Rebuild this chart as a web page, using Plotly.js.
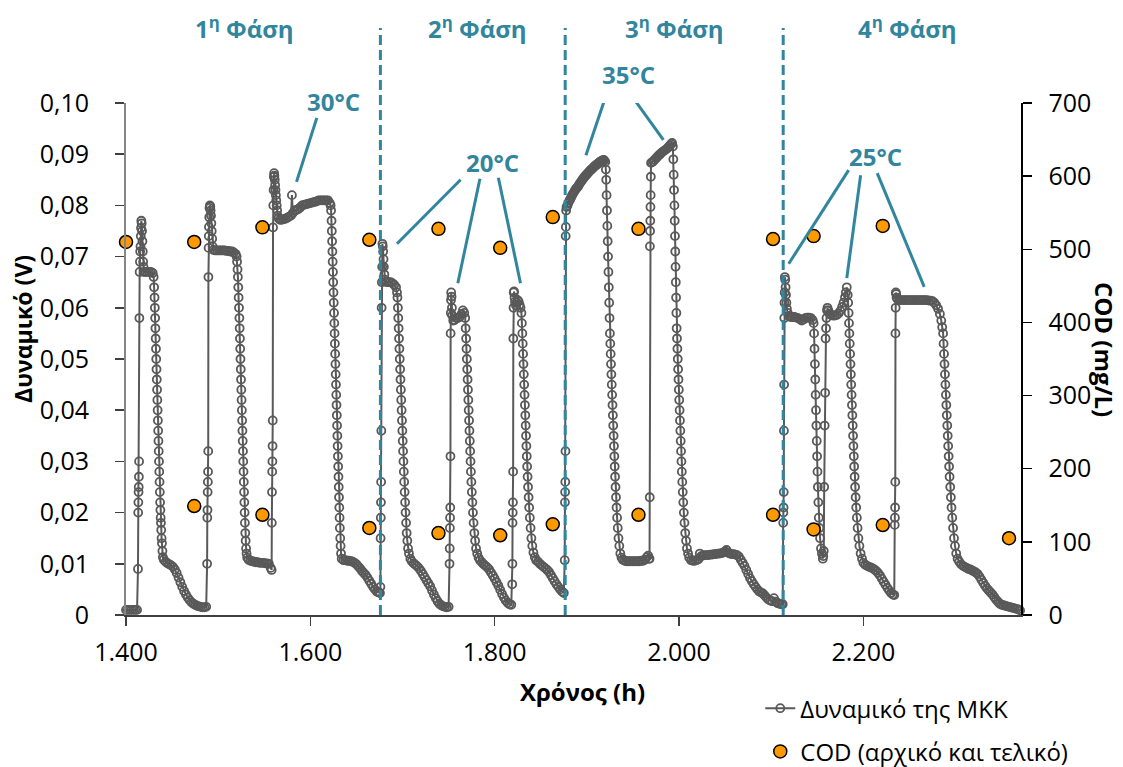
<!DOCTYPE html>
<html>
<head>
<meta charset="utf-8">
<script src="https://cdn.plot.ly/plotly-3.0.1.min.js"></script>
<style>
html,body{margin:0;padding:0;background:#ffffff;}
#chart{width:1123px;height:767px;}
</style>
</head>
<body>
<div id="chart"></div>
<script>
// ---- Potential of the MFC (V) vs time (h), per phase ----
const phase1 = [
[1400,0.001],[1402,0.001],[1404,0.001],[1406,0.001],[1408,0.001],[1410,0.001],[1412,0.001],
[1413,0.009],[1413.2,0.020],[1413.4,0.022],[1413.6,0.024],[1413.8,0.025],[1414,0.027],[1414.2,0.030],[1414.5,0.058],[1414.8,0.067],[1415.1,0.069],[1415.4,0.071],[1415.7,0.072],[1416,0.074],[1416.3,0.0756],[1416.6,0.077],
[1417,0.0765],[1417.4,0.075],[1417.8,0.073],[1418.2,0.071],[1418.6,0.069],[1419,0.068],[1419.5,0.067],
[1421,0.067],[1423,0.067],[1425,0.067],[1427,0.067],[1429,0.0668],[1430,0.066],
[1430.5,0.064],[1431,0.062],[1431.3,0.060],[1431.6,0.058],[1431.9,0.056],[1432.2,0.054],[1432.5,0.052],[1432.8,0.050],[1433.1,0.048],[1433.4,0.046],[1433.7,0.044],[1434,0.042],[1434.3,0.040],[1434.6,0.038],[1434.9,0.036],[1435.2,0.034],[1435.5,0.032],[1435.8,0.030],[1436.1,0.028],[1436.4,0.026],[1436.7,0.024],[1437,0.022],[1437.3,0.0205],[1437.6,0.019],[1437.9,0.018],[1438.2,0.0166],[1438.6,0.015],[1439,0.014],[1439.5,0.0125],[1440,0.0113],
[1441,0.0108],[1443,0.0104],[1445,0.0101],[1447,0.0099],[1449,0.0097],[1451,0.0094],[1453,0.0089],[1455,0.0082],[1457,0.0073],[1459,0.0064],[1461,0.0055],[1463,0.0047],[1465,0.0040],[1467,0.0034],[1469,0.0029],[1471,0.0025],[1473,0.0022],[1475,0.0020],[1477,0.0018],[1479,0.0017],[1481,0.0016],[1483,0.0015],[1485,0.0015],[1487,0.0016],
[1488,0.010],[1488.2,0.019],[1488.4,0.0205],[1488.6,0.024],[1488.8,0.026],[1489,0.028],[1489.2,0.032],[1489.4,0.066],[1489.6,0.0717],[1489.8,0.074],[1490,0.0758],[1490.3,0.0777],[1490.6,0.0795],[1491,0.080],
[1491.4,0.0798],[1491.8,0.079],[1492.2,0.078],[1492.6,0.0765],[1493,0.075],[1493.5,0.0735],[1494,0.072],[1495,0.0713],
[1497,0.0712],[1499,0.0712],[1501,0.0712],[1503,0.0712],[1505,0.0712],[1507,0.0712],[1509,0.0711],[1511,0.0711],[1513,0.071],[1515,0.071],[1517,0.0708],[1519,0.0705],[1520,0.070],
[1520.5,0.069],[1521,0.0675],[1521.4,0.066],[1521.8,0.064],[1522.2,0.062],[1522.6,0.060],[1523,0.058],[1523.3,0.056],[1523.6,0.054],[1523.9,0.052],[1524.2,0.050],[1524.5,0.048],[1524.8,0.046],[1525.1,0.044],[1525.4,0.042],[1525.7,0.040],[1526,0.038],[1526.3,0.036],[1526.6,0.034],[1526.9,0.032],[1527.2,0.030],[1527.5,0.028],[1527.8,0.026],[1528.1,0.024],[1528.4,0.022],[1528.7,0.020],[1529,0.018],[1529.4,0.016],[1529.8,0.0145],[1530.3,0.013],[1530.8,0.012],[1531.5,0.0112],
[1533,0.0108],[1535,0.0106],[1537,0.0105],[1539,0.0104],[1541,0.0103],[1543,0.0103],[1545,0.0102],[1547,0.0102],[1549,0.0102],[1551,0.0101],[1553,0.0101],[1555,0.0100],[1557,0.0092],
[1558,0.0088],[1558.2,0.018],[1558.4,0.024],[1558.6,0.028],[1558.8,0.030],[1559,0.033],[1559.2,0.038],[1559.5,0.0757],[1559.8,0.080],[1560.1,0.083],[1560.4,0.0856],[1560.7,0.0863],
[1561,0.0858],[1561.4,0.085],[1561.8,0.084],[1562.2,0.083],[1562.6,0.082],[1563,0.081],[1563.5,0.080],[1564,0.079],[1564.5,0.078],[1565.5,0.0775],
[1567,0.0772],[1569,0.0772],[1571,0.0773],[1573,0.0774],[1575,0.0776],[1577,0.0778],[1579,0.078],[1580,0.082],[1581,0.0785],[1583,0.079],[1585,0.0791],[1587,0.0793],[1589,0.0796],[1591,0.080],[1593,0.0801],[1595,0.0802],[1597,0.0803],[1599,0.0804],[1601,0.0805],[1603,0.0806],[1605,0.0807],[1607,0.0808],[1609,0.081],[1611,0.081],[1613,0.081],[1615,0.081],[1617,0.081],[1619,0.081],[1621,0.0805],[1622,0.080],
[1622.5,0.079],[1623,0.077],[1623.3,0.075],[1623.6,0.073],[1623.9,0.071],[1624.2,0.069],[1624.5,0.067],[1624.8,0.065],[1625.1,0.063],[1625.4,0.061],[1625.7,0.059],[1626,0.057],[1626.3,0.055],[1626.6,0.053],[1626.9,0.051],[1627.2,0.049],[1627.5,0.047],[1627.8,0.045],[1628.1,0.043],[1628.4,0.041],[1628.7,0.039],[1629,0.037],[1629.3,0.035],[1629.6,0.033],[1629.9,0.031],[1630.2,0.029],[1630.5,0.027],[1630.8,0.025],[1631.1,0.023],[1631.4,0.021],[1631.7,0.019],[1632,0.017],[1632.4,0.015],[1632.8,0.0135],[1633.3,0.012],[1634,0.011],
[1636,0.0107],[1638,0.0107],[1640,0.0106],[1642,0.0106],[1644,0.0105],[1646,0.0104],[1648,0.0102],[1650,0.0099],[1652,0.0095],[1654,0.0091],[1656,0.0086],[1658,0.0082],[1660,0.0078],[1662,0.0073],[1664,0.0067],[1666,0.0061],[1668,0.0055],[1670,0.0050],[1672,0.0046],[1674,0.0044],[1675.5,0.0043]
];
const phase2 = [
[1676,0.0055],[1676.2,0.015],[1676.4,0.019],[1676.6,0.022],[1676.8,0.026],[1677,0.036],[1677.3,0.060],[1677.6,0.065],[1677.9,0.068],[1678.2,0.0725],
[1678.6,0.072],[1679,0.071],[1679.4,0.0695],[1679.8,0.068],[1680.3,0.0665],[1681,0.0655],
[1683,0.065],[1685,0.065],[1687,0.065],[1689,0.0648],[1691,0.0645],[1693,0.064],[1694,0.063],
[1694.5,0.062],[1695,0.060],[1695.4,0.058],[1695.8,0.056],[1696.2,0.054],[1696.6,0.052],[1697,0.050],[1697.4,0.048],[1697.8,0.046],[1698.2,0.044],[1698.6,0.042],[1699,0.040],[1699.4,0.038],[1699.8,0.036],[1700.2,0.034],[1700.6,0.032],[1701,0.030],[1701.4,0.028],[1701.8,0.026],[1702.3,0.024],[1702.8,0.022],[1703.3,0.020],[1703.9,0.018],[1704.5,0.016],[1705.2,0.0145],[1706,0.013],[1707,0.012],[1708.5,0.011],
[1710,0.0105],[1712,0.0101],[1714,0.0098],[1716,0.0095],[1718,0.0091],[1720,0.0086],[1722,0.0080],[1724,0.0074],[1726,0.0068],[1728,0.0062],[1730,0.0056],[1732,0.0048],[1734,0.0040],[1736,0.0033],[1738,0.0027],[1740,0.0022],[1742,0.0019],[1744,0.0017],[1746,0.0016],[1748,0.0015],[1750,0.0016],
[1751,0.010],[1751.2,0.013],[1751.4,0.017],[1751.6,0.019],[1751.8,0.021],[1752,0.031],[1752.2,0.055],[1752.4,0.059],[1752.6,0.0615],[1752.8,0.063],
[1753.2,0.0622],[1753.6,0.060],[1754,0.0585],[1755,0.0575],[1756.5,0.0576],[1758,0.058],[1760,0.058],[1762,0.0582],[1764,0.0588],[1765.5,0.0595],[1767,0.059],[1768,0.058],
[1768.5,0.056],[1769,0.054],[1769.4,0.052],[1769.8,0.050],[1770.2,0.048],[1770.6,0.046],[1771,0.044],[1771.4,0.042],[1771.8,0.040],[1772.2,0.038],[1772.6,0.036],[1773,0.034],[1773.4,0.032],[1773.8,0.030],[1774.2,0.028],[1774.7,0.026],[1775.2,0.024],[1775.8,0.022],[1776.4,0.020],[1777.1,0.018],[1777.9,0.016],[1778.8,0.0145],[1779.8,0.013],[1781,0.012],[1782.5,0.0112],[1784,0.0107],
[1786,0.0103],[1788,0.0099],[1790,0.0096],[1792,0.0093],[1794,0.0089],[1796,0.0083],[1798,0.0077],[1800,0.0071],[1802,0.0064],[1804,0.0057],[1806,0.0049],[1808,0.0041],[1810,0.0034],[1812,0.0028],[1814,0.0024],[1816,0.0021],[1818,0.0020],
[1819,0.006],[1819.2,0.010],[1819.4,0.018],[1819.6,0.020],[1819.8,0.022],[1820,0.028],[1820.2,0.054],[1820.4,0.060],[1820.6,0.063],
[1821,0.0632],[1821.5,0.062],[1822,0.0612],[1823,0.0605],[1824,0.061],[1825,0.0615],[1826,0.0612],[1827,0.0606],[1828,0.060],[1829,0.059],
[1829.5,0.057],[1830,0.055],[1830.4,0.053],[1830.8,0.051],[1831.2,0.049],[1831.6,0.047],[1832,0.045],[1832.4,0.043],[1832.8,0.041],[1833.2,0.039],[1833.6,0.037],[1834,0.035],[1834.4,0.033],[1834.8,0.031],[1835.2,0.029],[1835.7,0.027],[1836.2,0.025],[1836.8,0.023],[1837.4,0.021],[1838.1,0.019],[1838.9,0.017],[1839.8,0.015],[1840.8,0.0135],[1842,0.0122],[1843.5,0.0113],[1845,0.0107],
[1847,0.0104],[1849,0.0100],[1851,0.0097],[1853,0.0094],[1855,0.0091],[1857,0.0088],[1859,0.0084],[1861,0.0078],[1863,0.0072],[1865,0.0066],[1867,0.0060],[1869,0.0055],[1871,0.0050],[1873,0.0046],[1875,0.0043]
];
const phase3 = [
[1876,0.0107],[1876.2,0.022],[1876.4,0.024],[1876.6,0.026],[1876.8,0.032],[1877,0.074],[1877.2,0.0758],[1877.5,0.079],
[1878,0.0797],[1879,0.080],[1880,0.0805],[1881,0.0809],[1882,0.0812],[1883,0.0816],[1884,0.082],[1885,0.0823],[1886,0.0826],[1887,0.0829],[1888,0.0832],[1889,0.0834],[1890,0.0836],[1891,0.0839],[1892,0.0842],[1893,0.0845],[1894,0.0847],[1895,0.085],[1896,0.0852],[1897,0.0855],[1898,0.0857],[1899,0.0859],[1900,0.0861],[1901,0.0863],[1902,0.0865],[1903,0.0867],[1904,0.0869],[1905,0.087],[1906,0.0872],[1907,0.0874],[1908,0.0876],[1909,0.0877],[1910,0.0879],[1911,0.088],[1912,0.0882],[1913,0.0883],[1914,0.0885],[1915,0.0886],[1916,0.0887],[1917,0.0888],[1918,0.0889],[1919,0.0888],
[1920,0.0885],[1920.6,0.087],[1921,0.085],[1921.4,0.082],[1921.8,0.079],[1922.2,0.076],[1922.6,0.073],[1923,0.070],[1923.4,0.067],[1923.8,0.064],[1924.2,0.061],[1924.6,0.058],[1925,0.055],[1925.4,0.053],[1925.8,0.051],[1926.2,0.049],[1926.6,0.047],[1927,0.045],[1927.4,0.043],[1927.8,0.041],[1928.2,0.039],[1928.6,0.037],[1929,0.035],[1929.4,0.033],[1929.8,0.031],[1930.2,0.029],[1930.6,0.027],[1931.1,0.025],[1931.6,0.023],[1932.2,0.021],[1932.8,0.019],[1933.5,0.017],[1934.3,0.015],[1935.2,0.0135],[1936.3,0.012],[1937.6,0.0112],[1939,0.0108],
[1941,0.0106],[1943,0.0105],[1945,0.0105],[1947,0.0105],[1949,0.0105],[1951,0.0105],[1953,0.0105],[1955,0.0105],[1957,0.0105],[1959,0.0106],[1961,0.0106],[1963,0.0108],[1965,0.0113],[1966.5,0.0116],[1967.5,0.011],
[1968,0.011],[1968.2,0.023],[1968.4,0.072],[1968.6,0.075],[1968.8,0.077],[1969,0.0797],[1969.2,0.082],[1969.4,0.0856],[1969.6,0.0883],
[1970.5,0.0884],[1972,0.0886],[1973.5,0.0889],[1975,0.0892],[1976.5,0.0895],[1978,0.0898],[1979.5,0.090],[1981,0.0903],[1982.5,0.0905],[1984,0.0907],[1985.5,0.0909],[1987,0.0911],[1988.5,0.0914],[1990,0.0917],[1991.5,0.092],[1992.5,0.0922],
[1993.3,0.0915],[1993.8,0.089],[1994.2,0.086],[1994.6,0.083],[1995,0.080],[1995.3,0.077],[1995.6,0.074],[1995.9,0.071],[1996.2,0.068],[1996.5,0.065],[1996.8,0.062],[1997.1,0.059],[1997.4,0.056],[1997.8,0.054],[1998.2,0.052],[1998.6,0.050],[1999,0.048],[1999.4,0.046],[1999.8,0.044],[2000.2,0.042],[2000.6,0.040],[2001,0.038],[2001.4,0.036],[2001.8,0.034],[2002.2,0.032],[2002.6,0.030],[2003,0.028],[2003.5,0.026],[2004,0.024],[2004.6,0.022],[2005.2,0.020],[2005.9,0.018],[2006.7,0.016],[2007.6,0.0145],[2008.6,0.013],[2009.8,0.012],[2011,0.0112],
[2013,0.0107],[2015,0.0106],[2017,0.0106],[2019,0.0107],[2021,0.0109],[2022.5,0.012],[2024,0.0115],[2026,0.0116],[2028,0.0117],[2030,0.0117],[2032,0.0117],[2034,0.0118],[2036,0.0118],[2038,0.0119],[2040,0.0119],[2042,0.012],[2044,0.012],[2046,0.0121],[2048,0.0122],[2050,0.0124],[2051.5,0.0127],[2053,0.0122],[2055,0.012],[2057,0.0119],[2059,0.0119],[2061,0.0118],[2063,0.0117],[2065,0.0114],[2067,0.0108],[2069,0.0102],[2071,0.0096],[2073,0.0088],[2075,0.0080],[2077,0.0072],[2079,0.0066],[2081,0.006],[2083,0.0055],[2085,0.005],[2087,0.0046],[2089,0.0044],[2091,0.0042],[2093,0.0038],[2095,0.0034],[2097,0.003],[2099,0.0028],[2101,0.0027],[2103,0.0033],[2105,0.0026],[2107,0.0023],[2109,0.0022],[2111,0.0021],[2112.5,0.0021]
];
const phase4 = [
[2113,0.018],[2113.2,0.020],[2113.4,0.021],[2113.6,0.024],[2113.8,0.036],[2114,0.045],[2114.2,0.058],[2114.4,0.061],[2114.6,0.063],[2114.8,0.066],
[2115.2,0.0655],[2115.6,0.064],[2116,0.0625],[2116.5,0.061],[2117,0.0598],[2118,0.059],[2119,0.0584],
[2121,0.0582],[2123,0.0582],[2125,0.0582],[2127,0.0581],[2129,0.058],[2131,0.0578],[2133,0.0575],[2135,0.0577],[2137,0.058],[2139,0.0581],[2141,0.0581],[2143,0.058],[2145,0.0576],[2146,0.057],
[2146.5,0.055],[2147,0.052],[2147.4,0.049],[2147.8,0.046],[2148.2,0.043],[2148.6,0.040],[2149,0.037],[2149.4,0.034],[2149.8,0.031],[2150.2,0.028],[2150.6,0.025],[2151.1,0.022],[2151.6,0.019],[2152.2,0.017],[2153,0.015],[2154,0.013],[2155,0.012],[2156,0.011],
[2156.5,0.0115],[2157,0.0125],[2157.5,0.025],[2158,0.037],[2158.5,0.0434],[2159,0.054],[2159.5,0.056],[2160,0.058],[2160.5,0.0595],[2161,0.060],
[2162,0.0595],[2163.5,0.0588],[2165,0.0586],[2167,0.0585],[2169,0.0585],[2171,0.0586],[2173,0.0589],[2175,0.0594],[2177,0.0602],[2178.5,0.061],[2180,0.062],[2181,0.063],[2182,0.064],[2183,0.0625],
[2183.5,0.061],[2184,0.059],[2184.4,0.057],[2184.8,0.055],[2185.2,0.053],[2185.6,0.051],[2186,0.049],[2186.4,0.047],[2186.8,0.045],[2187.2,0.043],[2187.6,0.041],[2188,0.039],[2188.4,0.037],[2188.8,0.035],[2189.2,0.033],[2189.6,0.031],[2190,0.029],[2190.5,0.027],[2191,0.025],[2191.6,0.023],[2192.2,0.021],[2192.9,0.019],[2193.7,0.017],[2194.6,0.015],[2195.7,0.0135],[2197,0.012],[2198.5,0.011],[2200,0.0102],
[2202,0.0098],[2204,0.0096],[2206,0.0094],[2208,0.0093],[2210,0.0091],[2212,0.0089],[2214,0.0086],[2216,0.0082],[2218,0.0077],[2220,0.0071],[2222,0.0065],[2224,0.0059],[2226,0.0053],[2228,0.0048],[2230,0.0043],[2232,0.004],[2233.5,0.0039],
[2234,0.0176],[2234.2,0.019],[2234.4,0.021],[2234.6,0.026],[2234.8,0.055],[2235,0.060],[2235.2,0.063],
[2235.6,0.0627],[2236,0.062],[2237,0.0617],[2239,0.0615],[2241,0.0615],[2243,0.0615],[2245,0.0615],[2247,0.0615],[2249,0.0615],[2251,0.0615],[2253,0.0615],[2255,0.0615],[2257,0.0615],[2259,0.0615],[2261,0.0615],[2263,0.0615],[2265,0.0615],[2267,0.0615],[2269,0.0615],[2271,0.0614],[2273,0.0614],[2275,0.0613],
[2277,0.061],[2279,0.0605],[2281,0.0598],[2283,0.0588],[2284.5,0.0575],[2285.5,0.0562],[2286.5,0.055],[2287,0.053],[2287.5,0.051],[2288,0.049],[2288.5,0.047],[2289,0.045],[2289.5,0.043],[2290,0.041],[2290.5,0.039],[2291,0.037],[2291.5,0.035],[2292,0.033],[2292.5,0.031],[2293,0.029],[2293.5,0.027],[2294.2,0.025],[2294.9,0.023],[2295.6,0.021],[2296.4,0.019],[2297.3,0.017],[2298.3,0.015],[2299.4,0.0135],[2300.7,0.012],[2302.2,0.011],[2304,0.0104],
[2306,0.0099],[2308,0.0096],[2310,0.0094],[2312,0.0092],[2314,0.009],[2316,0.0089],[2318,0.0087],[2320,0.0085],[2322,0.0083],[2324,0.008],[2326,0.0075],[2328,0.0069],[2330,0.0063],[2332,0.0057],[2334,0.0052],[2336,0.0048],[2338,0.0044],[2340,0.004],[2342,0.0035],[2344,0.003],[2346,0.0026],[2348,0.0022],[2350,0.002],[2352,0.0019],[2354,0.0018],[2356,0.0017],[2358,0.0016],[2360,0.0015],[2362,0.0014],[2364,0.0013],[2366,0.0012],[2368,0.0011],[2370,0.0009]
];

// ---- COD (initial and final), mg/L ----
const codTimeH = [1400,1474,1474,1548,1548,1664,1664,1739,1739,1806,1806,1863,1863,1956,1956,2102,2102,2146,2146,2221,2221,2358];
const codMgL   = [510,510,149,530,137,513,119,528,112,502,109,544,124,528,137,514,137,518,117,532,123,105];

// ---- Axis ticks ----
const xTickVals = [1400,1600,1800,2000,2200];
const xTickText = ['1.400','1.600','1.800','2.000','2.200'];
const yTickVals = [0,0.01,0.02,0.03,0.04,0.05,0.06,0.07,0.08,0.09,0.10];
const yTickText = ['0','0,01','0,02','0,03','0,04','0,05','0,06','0,07','0,08','0,09','0,10'];
const codTickVals = [0,100,200,300,400,500,600,700];

// ---- Phase boundaries and labels ----
const phaseBoundariesH = [1676,1876.5,2113];
const phaseLabels = ['1<sup>η</sup> Φάση','2<sup>η</sup> Φάση','3<sup>η</sup> Φάση','4<sup>η</sup> Φάση'];
const phaseLabelH = [1529,1781,1995,2248];

// ---- Temperature callouts (hours, volts) ----
const tempLabels = ['30°C','20°C','35°C','25°C'];
const tempLabelPos = [[1625,0.1002],[1798,0.0883],[1945,0.1055],[2213,0.0896]];
const tempLeaders = [
  [[1607,0.0971],[1585,0.0846]],
  [[1763,0.0850],[1694,0.0725]],
  [[1784,0.0852],[1760,0.0648]],
  [[1804,0.0854],[1828,0.0648]],
  [[1922,0.1021],[1899,0.0898]],
  [[1945,0.1023],[1983,0.0928]],
  [[2184,0.0869],[2119,0.0686]],
  [[2197,0.0859],[2182,0.0658]],
  [[2215,0.0863],[2266,0.0641]]
];

const Y_MAX = 0.1;
const potential = phase1.concat(phase2, phase3, phase4);
const FONT = 'Open Sans, Noto Sans, DejaVu Sans, sans-serif';
const TEAL = '#31859C';
const GREY = '#595959';

const traces = [
  {
    type:'scatter', mode:'lines+markers',
    name:'Δυναμικό της ΜΚΚ',
    x: potential.map(p=>p[0]), y: potential.map(p=>p[1]),
    line:{color:GREY, width:2},
    marker:{symbol:'circle-open', size:8, color:GREY, line:{color:GREY, width:1.8}},
    cliponaxis:false, legendgroup:'a', xaxis:'x', yaxis:'y'
  },
  {
    type:'scatter', mode:'markers',
    name:'COD (αρχικό και τελικό)',
    x: codTimeH, y: codMgL,
    marker:{symbol:'circle', size:13, color:'#FF9900', line:{color:'#000000', width:1.5}},
    cliponaxis:false, legendgroup:'b', xaxis:'x', yaxis:'y2'
  }
];

const shapes = [];
phaseBoundariesH.forEach(h=>{
  shapes.push({type:'line', xref:'x', yref:'paper', x0:h, x1:h, y0:0, y1:1.1465,
    line:{color:TEAL, width:3, dash:'10px,5px'}});
});
tempLeaders.forEach(s=>{
  shapes.push({type:'line', xref:'x', yref:'y', x0:s[0][0], y0:s[0][1], x1:s[1][0], y1:s[1][1],
    line:{color:TEAL, width:3}});
});

const annotations = [];
phaseLabels.forEach((t,i)=>{
  annotations.push({text:'<b>'+t+'</b>', xref:'x', yref:'paper', x:phaseLabelH[i], y:1.1465,
    xanchor:'center', yanchor:'middle', showarrow:false, font:{family:FONT, size:24, color:TEAL}});
});
tempLabels.forEach((t,i)=>{
  annotations.push({text:'<b>'+t+'</b>', xref:'x', yref:'paper', x:tempLabelPos[i][0], y:tempLabelPos[i][1]/Y_MAX,
    xanchor:'center', yanchor:'middle', showarrow:false, font:{family:FONT, size:24, color:TEAL}});
});
annotations.push({text:'<b>Δυναμικό (V)</b>', xref:'paper', yref:'paper', x:-0.1151, y:0.5586,
  xanchor:'center', yanchor:'middle', textangle:-90, showarrow:false, font:{family:FONT, size:23, color:'#000'}});
annotations.push({text:'<b>COD (mg/L)</b>', xref:'paper', yref:'paper', x:1.0939, y:0.5195,
  xanchor:'center', yanchor:'middle', textangle:90, showarrow:false, font:{family:FONT, size:24, color:'#000'}});
annotations.push({text:'<b>Χρόνος (h)</b>', xref:'paper', yref:'paper', x:0.5095, y:-0.150,
  xanchor:'center', yanchor:'middle', showarrow:false, font:{family:FONT, size:24, color:'#000'}});

const layout = {
  width:1123, height:767,
  margin:{l:126, r:102, t:103, b:152, pad:0, autoexpand:false},
  paper_bgcolor:'#ffffff', plot_bgcolor:'#ffffff',
  font:{family:FONT, size:24, color:'#000'},
  showlegend:true,
  legend:{xref:'container', yref:'container', x:0.677, y:0.1055, xanchor:'left', yanchor:'top',
    bgcolor:'rgba(0,0,0,0)', font:{family:FONT, size:24, color:'#000'},
    traceorder:'grouped', tracegroupgap:9},
  xaxis:{range:[1400,2371], tickvals:xTickVals, ticktext:xTickText, ticks:'outside', ticklen:9,
    tickwidth:1.5, tickcolor:'#404040', showline:true, linecolor:'#404040', linewidth:1.5,
    showgrid:false, zeroline:false, ticklabelstandoff:5, tickfont:{family:FONT, size:25, color:'#000'}},
  yaxis:{range:[0,Y_MAX], tickvals:yTickVals, ticktext:yTickText, ticks:'outside', ticklen:9,
    tickwidth:1.5, tickcolor:'#404040', showline:true, linecolor:'#868686', linewidth:2,
    showgrid:false, zeroline:false, ticklabelstandoff:21, tickfont:{family:FONT, size:25, color:'#000'}},
  yaxis2:{range:[0,700], tickvals:codTickVals, overlaying:'y', side:'right', anchor:'x',
    ticks:'outside', ticklen:9, tickwidth:1.5, tickcolor:'#000', showline:true, linecolor:'#000', linewidth:1.5,
    showgrid:false, zeroline:false, ticklabelstandoff:12, tickfont:{family:FONT, size:25, color:'#000'}},
  yaxis3:{range:[0,700], tickvals:codTickVals, overlaying:'y', side:'right', anchor:'x',
    ticks:'inside', ticklen:9, tickwidth:1.5, tickcolor:'#000', showline:false, showticklabels:false,
    showgrid:false, zeroline:false},
  shapes:shapes,
  annotations:annotations
};

Plotly.newPlot('chart', traces, layout, {displayModeBar:false, staticPlot:true});
</script>
</body>
</html>
